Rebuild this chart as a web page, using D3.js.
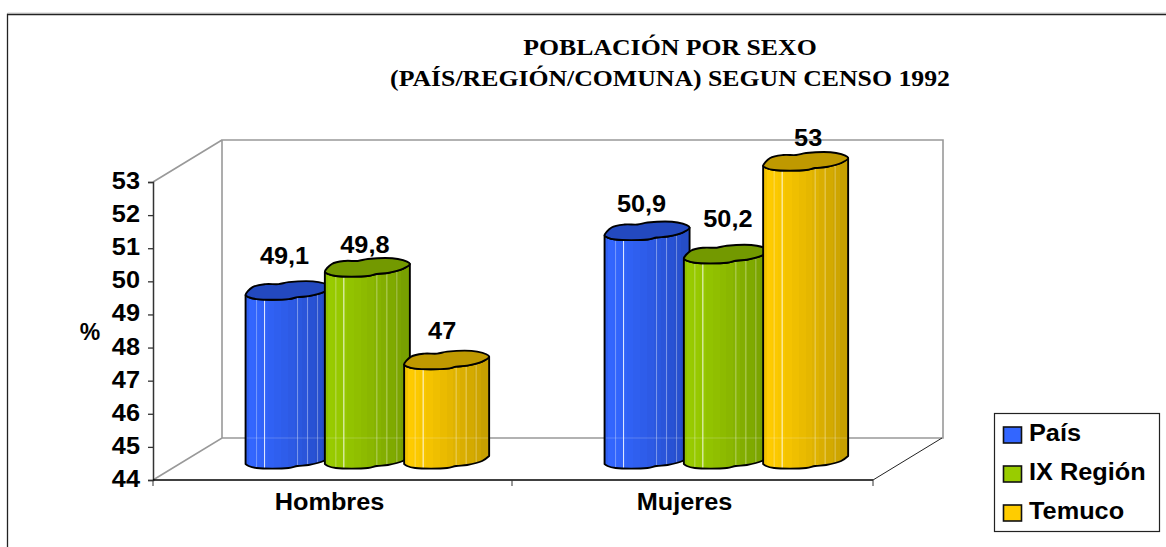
<!DOCTYPE html>
<html lang="es">
  <head>
    <meta charset="UTF-8" />
    <title>Población por sexo</title>
    <style>
      html,
      body {
        margin: 0;
        background: #fff;
      }
      svg {
        display: block;
      }
      .sans {
        font-family: "Liberation Sans", Arial, sans-serif;
        font-weight: bold;
        font-size: 23px;
        fill: #000;
      }
      .serif {
        font-family: "Liberation Serif", "Times New Roman", serif;
        font-weight: bold;
        font-size: 23px;
        fill: #000;
      }
    </style>
    <script src="https://cdn.jsdelivr.net/npm/d3@7"></script>
  </head>

  <body>
    <script>
      // datos
      const categories = ["Hombres", "Mujeres"];
      const seriesNames = ["País", "IX Región", "Temuco"];
      const pais = [49.1, 50.9];
      const region = [49.8, 50.2];
      const temuco = [47, 53];
      const valueLabels = [
        ["49,1", "50,9"],
        ["49,8", "50,2"],
        ["47", "53"],
      ];
      const yTicks = [44, 45, 46, 47, 48, 49, 50, 51, 52, 53];
      const titleLines = [
        "POBLACIÓN POR SEXO",
        "(PAÍS/REGIÓN/COMUNA) SEGUN CENSO 1992",
      ];

      // colores: claro, oscuro (tapa)
      const colors = ["#3366ff", "#99cc00", "#ffcc00"];
      const darks = ["#2349bf", "#739900", "#bf9900"];

      const width = 1166;
      const height = 547;
      const depthX = 69;
      const depthY = 42;
      const barLift = 12;
      const barShift = 32;
      const barW = 85;

      // perfil de la columna: borde frontal y trasero
      const front = [[0, -4], [3, -2], [11, 0], [43, 0], [52, -2], [63, -3], [78, -7], [85, -12]];
      const back = [[85, -12], [73, -17], [43, -17], [33, -15], [20, -15], [7, -12], [0, -4]];
      // brillos verticales
      const shines = [[11, 0.35], [19, 0.9], [52, 0.4], [62, 0.4], [72, 0.35]];
      // ajuste de las etiquetas sobre cada columna (por serie, por categoría)
      const labelNudge = [
        [[39, -43], [37, -36]],
        [[40, -31], [44, -44]],
        [[38, -38], [45, -32]],
      ];

      const svg = d3.select("body").append("svg").attr("width", width).attr("height", height);

      // texto ensanchado, como en el original
      function stretch(sel, k) {
        sel.each(function () {
          this.setAttribute("textLength", this.getComputedTextLength() * k);
          this.setAttribute("lengthAdjust", "spacingAndGlyphs");
        });
      }

      const x0 = d3.scaleBand().domain(categories).range([153, 871]);
      const x1 = d3
        .scaleBand()
        .domain(seriesNames)
        .range([0, x0.bandwidth()])
        .paddingInner(0)
        .paddingOuter(0.764);
      const y = d3.scaleLinear().domain([44, 53]).range([480, 182]);

      // marco
      svg.append("path").attr("d", `M7.5,${height}V13H${width}`).attr("fill", "none").attr("stroke", "#ccc").attr("stroke-width", 1);
      svg.append("path").attr("d", `M7.5,${height}V14.5H${width}`).attr("fill", "none").attr("stroke", "#222").attr("stroke-width", 1.3);

      // paredes
      const xL = x0.range()[0];
      const xR = x0.range()[1] + 2;
      const yB = y(44);
      const yT = y(53);
      svg
        .append("path")
        .attr("d", `M${xL},${yB}L${xL + depthX},${yB - depthY}H${xR + depthX + 1}V${yT - depthY}H${xL + depthX}V${yB - depthY}M${xL},${yT}L${xL + depthX},${yT - depthY}`)
        .attr("fill", "none")
        .attr("stroke", "#999")
        .attr("stroke-width", 1.6);
      svg
        .append("path")
        .attr("d", `M${xR},${yB}L${xR + depthX},${yB - depthY}`)
        .attr("fill", "none")
        .attr("stroke", "#222")
        .attr("stroke-width", 1);

      // ejes
      const yAxis = d3.axisLeft(y).tickValues(yTicks).tickSize(5).tickPadding(8);
      const gy = svg.append("g").attr("transform", `translate(${xL},0)`).call(yAxis);
      gy.select(".domain").attr("stroke", "#333").attr("stroke-width", 1.5);
      gy.selectAll(".tick line").attr("stroke", "#333").attr("stroke-width", 1.3);
      gy.selectAll("text").attr("class", "sans").attr("dy", "0.28em");
      gy.attr("font-size", null).attr("font-family", null);
      stretch(gy.selectAll("text"), 1.1);

      const xAxis = d3.axisBottom(x0).tickSize(0).tickPadding(14).tickSizeOuter(0);
      const gx = svg.append("g").attr("transform", `translate(0,${yB})`).call(xAxis);
      gx.attr("font-size", null).attr("font-family", null);
      gx.select(".domain").remove();
      gx.selectAll("text").attr("class", "sans").attr("dy", "0.71em").attr("dx", (d, i) => [-3, -7][i]);
      stretch(gx.selectAll("text"), 1.1);
      svg.append("line").attr("x1", xL).attr("x2", xR).attr("y1", yB).attr("y2", yB).attr("stroke", "#000").attr("stroke-width", 1.3);
      svg
        .selectAll(".xtick")
        .data(categories.map((c) => x0(c)).concat(xR))
        .enter()
        .append("line")
        .attr("class", "xtick")
        .attr("x1", (d) => d)
        .attr("x2", (d) => d)
        .attr("y1", yB)
        .attr("y2", yB + 6)
        .attr("stroke", "#333")
        .attr("stroke-width", 1);

      // degradado a franjas
      const defs = svg.append("defs");
      colors.forEach((c, s) => {
        const grad = defs.append("linearGradient").attr("id", `grad${s}`);
        const mix = d3.interpolateRgb(c, darks[s]);
        const steps = [0.04, 0.1, 0.18, 0.26, 0.34, 0.42, 0.5, 0.58, 0.66, 0.74, 0.82, 0.9, 1];
        steps.forEach((t, i) => {
          const from = i === 0 ? 0 : steps[i - 1];
          const col = mix(i === 0 ? 0.2 : Math.pow(from, 1.3));
          grad.append("stop").attr("offset", from).attr("stop-color", col);
          grad.append("stop").attr("offset", t).attr("stop-color", col);
        });
      });

      const seg = d3.line().curve(d3.curveCatmullRom.alpha(0.5));
      const frontY = d3.scaleLinear().domain(front.map((p) => p[0])).range(front.map((p) => p[1]));

      // columnas
      const seriesValues = [pais, region, temuco];
      categories.forEach((cat, c) => {
        seriesNames.forEach((name, s) => {
          const v = seriesValues[s][c];
          const left = x0(cat) + x1(name) + barShift;
          const top = y(v) - barLift;
          const bottom = y(44) - barLift;
          const g = svg.append("g").attr("transform", `translate(${left},0)`);

          const topEdge = front.map((p) => [p[0], top + p[1]]);
          const bottomEdge = front.map((p) => [p[0], bottom + p[1]]).reverse();
          g.append("path")
            .attr("d", seg(topEdge) + "L" + seg(bottomEdge).slice(1) + "Z")
            .attr("fill", `url(#grad${s})`);

          shines.forEach((sh) => {
            g.append("line")
              .attr("x1", sh[0])
              .attr("x2", sh[0])
              .attr("y1", top + frontY(sh[0]))
              .attr("y2", bottom + frontY(sh[0]))
              .attr("stroke", "#fff")
              .attr("stroke-opacity", sh[1])
              .attr("stroke-width", 1);
          });
          // pared del fondo, apenas visible a través de la columna
          g.append("line")
            .attr("x1", 1)
            .attr("x2", barW - 1)
            .attr("y1", yB - depthY)
            .attr("y2", yB - depthY)
            .attr("stroke", "#fff")
            .attr("stroke-opacity", 0.14)
            .attr("stroke-width", 1.5);

          g.append("path")
            .attr("d", seg(topEdge) + "L" + seg(bottomEdge).slice(1) + "Z")
            .attr("fill", "none")
            .attr("stroke", "#000")
            .attr("stroke-width", 1.9)
            .attr("stroke-linejoin", "round");

          const capPts = topEdge.concat(back.slice(1, -1).map((p) => [p[0], top + p[1]]));
          g.append("path")
            .attr("d", d3.line().curve(d3.curveCatmullRomClosed.alpha(0.5))(capPts))
            .attr("fill", darks[s])
            .attr("stroke", "#000")
            .attr("stroke-width", 1.9);

          const nudge = labelNudge[s][c];
          const label = svg
            .append("text")
            .attr("class", "sans")
            .attr("x", left + nudge[0])
            .attr("y", top + nudge[1])
            .attr("dy", "0.36em")
            .attr("text-anchor", "middle")
            .text(valueLabels[s][c]);
          stretch(label, 1.1);
        });
      });

      // título
      svg
        .selectAll(".title")
        .data(titleLines)
        .enter()
        .append("text")
        .attr("class", "serif title")
        .attr("x", 670)
        .attr("y", (d, i) => 55 + i * 31)
        .attr("text-anchor", "middle")
        .text((d) => d);
      stretch(svg.selectAll(".title"), 1.12);

      // eje %
      const pct = svg.append("text").attr("class", "sans").attr("x", 90).attr("y", 340).attr("text-anchor", "middle").text("%");
      stretch(pct, 1);

      // leyenda
      svg.append("rect").attr("x", 994.5).attr("y", 413.5).attr("width", 165).attr("height", 118).attr("fill", "#fff").attr("stroke", "#222").attr("stroke-width", 1.2);
      const legendY = d3.scalePoint().domain(seriesNames).range([435, 513]);
      seriesNames.forEach((name, s) => {
        svg.append("rect").attr("x", 1003.5).attr("y", legendY(name) - 8).attr("width", 18).attr("height", 16).attr("fill", colors[s]).attr("stroke", "#111").attr("stroke-width", 1.6);
        const t = svg.append("text").attr("class", "sans").attr("x", 1029).attr("y", legendY(name) - 2).attr("dy", "0.36em").text(name);
        stretch(t, 1.1);
      });
    </script>
  </body>
</html>
